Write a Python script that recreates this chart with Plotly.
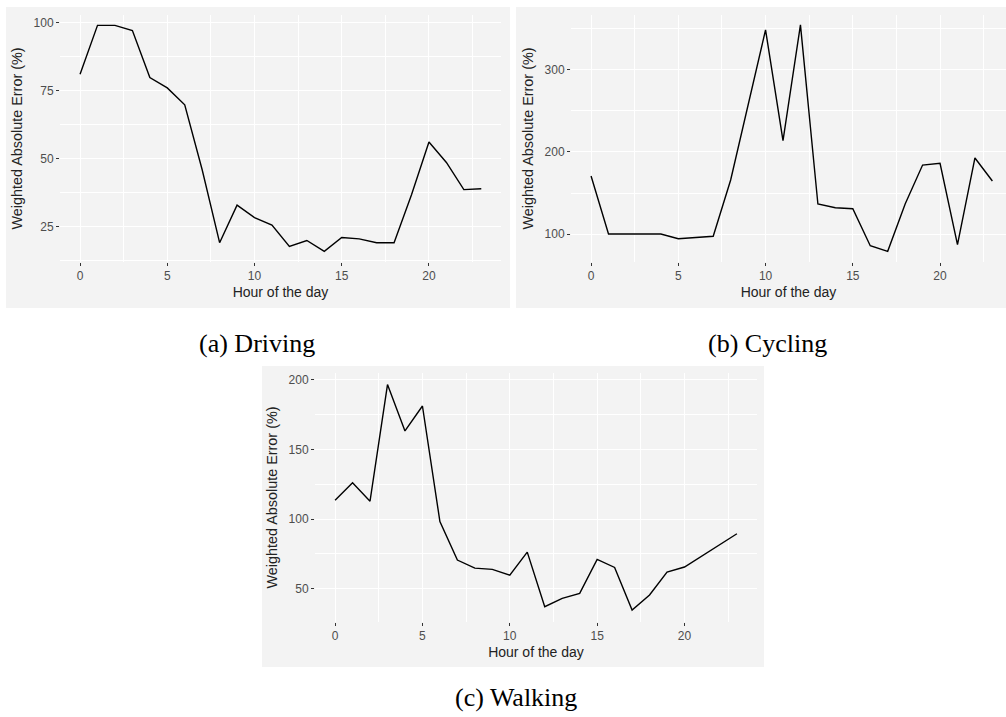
import plotly.graph_objects as go

hours = list(range(24))

driving = [81.1, 99.1, 99.1, 97.2, 79.9, 76.1, 69.9, 46.0, 19.2, 33.0, 28.4, 25.7,
           17.8, 20.0, 16.0, 21.1, 20.6, 19.2, 19.2, 36.8, 56.2, 48.7, 38.7, 39.0]
cycling = [170.7, 100.0, 100.0, 100.0, 100.0, 94.3, 96.0, 97.2, 165.9, 258.0, 348.8, 213.8,
           354.9, 136.6, 132.1, 130.9, 85.8, 78.9, 136.6, 184.1, 186.2, 87.0, 192.7, 164.6]
walking = [113.6, 126.1, 112.9, 196.7, 163.4, 181.3, 98.3, 70.6, 64.8, 63.9, 59.8, 76.3,
           37.1, 43.1, 46.7, 71.1, 65.3, 34.7, 45.5, 62.0, 65.6, 73.5, 81.5, 89.5]

captions = ["(a) Driving", "(b) Cycling", "(c) Walking"]
x_title = "Hour of the day"
y_title = "Weighted Absolute Error (%)"

W, H = 1006, 717
BG = "#f3f3f3"

def fx(p):
    return p / W

def fy(p):
    return 1 - p / H

fig = go.Figure()

panels = [
    # (series, x-domain px, y-domain px (top,bottom), xrange, yrange, ydtick, box px)
    (driving, (60, 501), (15, 262), [-1.15, 24.13], [12.1, 102.9], 25, (6, 7, 510, 308)),
    (cycling, (571, 1006), (15, 262), [-1.15, 23.78], [65.9, 367.0], 100, (516, 7, 1010, 308)),
    (walking, (315, 757), (373, 622), [-1.15, 24.15], [26.1, 205.0], 50, (262, 366, 764, 667)),
]

for i, (vals, xd, yd, xr, yr, ydt, box) in enumerate(panels):
    n = "" if i == 0 else str(i + 1)
    fig.add_shape(type="rect", xref="paper", yref="paper",
                  x0=fx(box[0]), x1=min(fx(box[2]), 1.0), y0=fy(box[3]), y1=fy(box[1]),
                  fillcolor=BG, line=dict(width=0), layer="below")
    fig.add_trace(go.Scatter(x=hours, y=vals, mode="lines",
                             line=dict(color="black", width=1.4),
                             xaxis="x" + n, yaxis="y" + n, showlegend=False))
    common = dict(showgrid=True, gridcolor="white", gridwidth=1.4, zeroline=False,
                  showline=False, ticks="outside", ticklen=3, tickwidth=1.2,
                  tickcolor="#333333", tickfont=dict(family="Liberation Sans", size=12, color="#4d4d4d"))
    fig.layout["xaxis" + n] = dict(
        domain=[fx(xd[0]), fx(xd[1])], range=xr, anchor="y" + n,
        tickmode="linear", tick0=0, dtick=5,
        minor=dict(tick0=2.5, dtick=5, showgrid=True, gridcolor="white", gridwidth=0.7, ticks=""),
        title=dict(text=x_title, font=dict(family="Liberation Sans", size=14, color="#222222"), standoff=4),
        **common)
    fig.layout["yaxis" + n] = dict(
        domain=[fy(yd[1]), fy(yd[0])], range=yr, anchor="x" + n,
        tickmode="linear", tick0=0, dtick=ydt,
        minor=dict(tick0=ydt / 2, dtick=ydt, showgrid=True, gridcolor="white", gridwidth=0.7, ticks=""),
        title=dict(text=y_title, font=dict(family="Liberation Sans", size=14.4, color="#222222"), standoff=7),
        **common)

cap_pos = [(257, 344), (767, 344), (516, 697)]
for text, (cx, cy) in zip(captions, cap_pos):
    fig.add_annotation(text=text, x=fx(cx), y=fy(cy), xref="paper", yref="paper",
                       showarrow=False, xanchor="center", yanchor="middle",
                       font=dict(family="Liberation Serif", size=26, color="black"))

fig.update_layout(width=W, height=H, margin=dict(l=0, r=0, t=0, b=0),
                  paper_bgcolor="white", plot_bgcolor=BG, showlegend=False)

fig.write_html("out.html", config={"displayModeBar": False},
               post_script="document.body.style.margin='0';document.body.style.padding='0';document.body.style.overflow='hidden';")
